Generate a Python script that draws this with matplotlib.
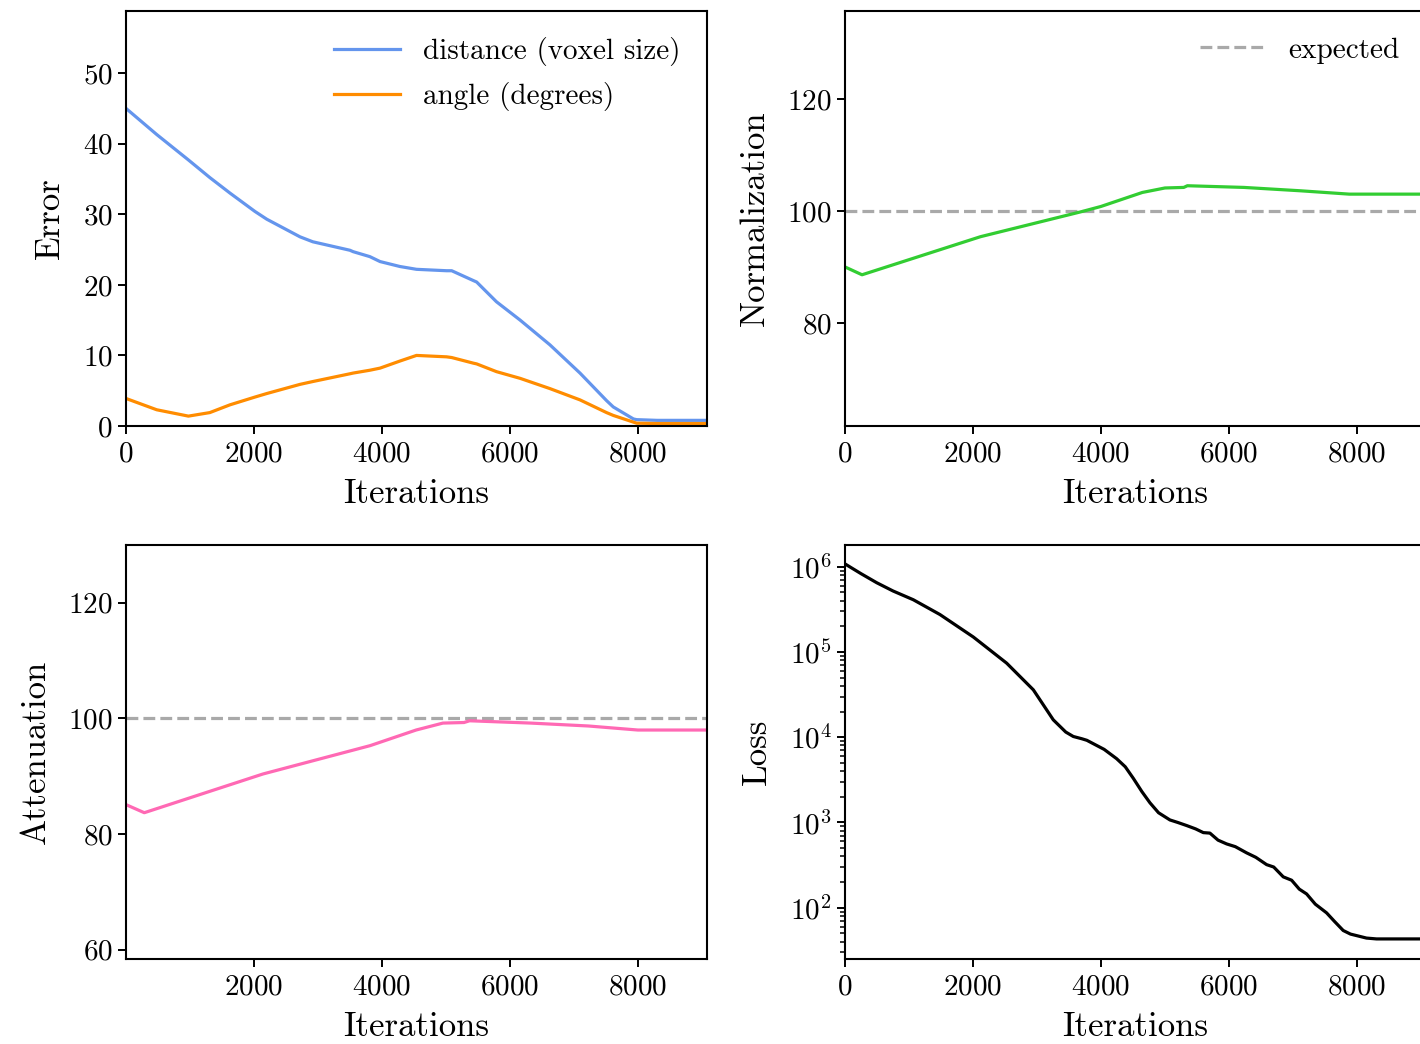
import matplotlib
matplotlib.use("Agg")
import matplotlib.pyplot as plt

plt.rcParams['font.family'] = ['cmr10', 'DejaVu Serif']
plt.rcParams['mathtext.fontset'] = 'cm'
plt.rcParams['axes.formatter.use_mathtext'] = True
plt.rcParams['axes.unicode_minus'] = False

# ---- data ----
err_iters = [0, 480, 975, 1310, 1625, 2015, 2200, 2720, 2920, 3500, 3550, 3810,
             3970, 4280, 4540, 5010, 5090, 5430, 5480, 5790, 6160, 6625, 7095,
             7510, 7615, 7930, 7980, 8300, 9080]
dist_err = [45.0, 41.3, 37.7, 35.2, 33.0, 30.4, 29.3, 26.8, 26.1, 24.9, 24.7, 24.0,
            23.3, 22.6, 22.2, 22.0, 22.0, 20.6, 20.4, 17.6, 15.0, 11.5, 7.5,
            3.6, 2.7, 1.0, 0.9, 0.8, 0.8]
angle_err = [3.9, 2.3, 1.4, 1.9, 3.0, 4.1, 4.6, 5.9, 6.3, 7.4, 7.5, 7.9,
             8.2, 9.2, 10.0, 9.8, 9.7, 8.9, 8.8, 7.7, 6.75, 5.3, 3.7,
             1.9, 1.5, 0.55, 0.4, 0.35, 0.35]

norm_iters = [0, 266, 2117, 3706, 4000, 4647, 5000, 5294, 5351, 6234, 7116, 7881, 9080]
norm_vals = [90.0, 88.6, 95.4, 99.9, 100.8, 103.3, 104.1, 104.2, 104.5, 104.2, 103.6, 103.0, 103.0]

att_iters = [0, 287, 2142, 3816, 4534, 4953, 5283, 5370, 6328, 7225, 8000, 9080]
att_vals = [85.1, 83.7, 90.4, 95.3, 98.0, 99.2, 99.3, 99.6, 99.2, 98.7, 98.0, 98.0]

expected = 100

loss_iters = [0, 250, 495, 750, 1068, 1484, 2005, 2526, 2943, 3255, 3450, 3568,
              3700, 3780, 3880, 4050, 4245, 4380, 4505, 4640, 4766, 4900, 5078,
              5200, 5339, 5480, 5600, 5703, 5830, 5964, 6100, 6276, 6420, 6589,
              6700, 6849, 6980, 7100, 7214, 7350, 7526, 7650, 7786, 7900, 8047,
              8150, 8307, 9080]
loss_vals = [1.08e6, 8.3e5, 6.5e5, 5.2e5, 4.1e5, 2.75e5, 1.5e5, 7.4e4, 3.6e4, 1.6e4, 1.15e4, 1.02e4,
             9.6e3, 9.2e3, 8.4e3, 7.2e3, 5.6e3, 4.5e3, 3.3e3, 2.3e3, 1.7e3, 1.3e3, 1.07e3,
             1.0e3, 9.2e2, 8.4e2, 7.6e2, 7.5e2, 6.2e2, 5.6e2, 5.2e2, 4.4e2, 3.9e2, 3.2e2,
             3.0e2, 2.3e2, 2.1e2, 1.65e2, 1.45e2, 1.1e2, 8.7e1, 6.9e1, 5.4e1, 4.9e1, 4.6e1,
             4.4e1, 4.3e1, 4.3e1]

XMAX = 9080
LW = 2.3
TICK_FS = 21
LABEL_FS = 25

fig = plt.figure(figsize=(14.2, 10.44), dpi=100)
W = 581 / 1420
ax_err = fig.add_axes([126 / 1420, 1 - 426 / 1044, W, 415 / 1044])
ax_norm = fig.add_axes([845 / 1420, 1 - 426 / 1044, W, 415 / 1044])
ax_att = fig.add_axes([126 / 1420, 1 - 959 / 1044, W, 414 / 1044])
ax_loss = fig.add_axes([845 / 1420, 1 - 959 / 1044, W, 414 / 1044])

for ax in (ax_err, ax_norm, ax_att, ax_loss):
    ax.tick_params(labelsize=TICK_FS, length=6, width=1.4)
    ax.tick_params(axis='x', pad=5)
    ax.tick_params(which='minor', length=3.5, width=1.1)
    for sp in ax.spines.values():
        sp.set_linewidth(1.5)
    ax.set_xlabel('Iterations', fontsize=LABEL_FS, labelpad=8)
    ax.set_xticks([0, 2000, 4000, 6000, 8000])

leg_kw = dict(loc='upper right', frameon=False, fontsize=TICK_FS, handlelength=2.25,
              handletextpad=0.8, labelspacing=0.55)

# Error
ax_err.plot(err_iters, dist_err, color='cornflowerblue', lw=LW, label='distance (voxel size)')
ax_err.plot(err_iters, angle_err, color='darkorange', lw=LW, label='angle (degrees)')
ax_err.set_xlim(0, XMAX)
ax_err.set_ylim(0, 58.8)
ax_err.set_yticks([0, 10, 20, 30, 40, 50])
ax_err.set_ylabel('Error', fontsize=LABEL_FS, labelpad=12)
ax_err.legend(**leg_kw)

# Normalization
ax_norm.axhline(expected, color='darkgray', ls='--', lw=LW, label='expected')
ax_norm.plot(norm_iters, norm_vals, color='limegreen', lw=LW)
ax_norm.set_xlim(0, XMAX)
ax_norm.set_ylim(61.6, 135.7)
ax_norm.set_yticks([80, 100, 120])
ax_norm.set_ylabel('Normalization', fontsize=LABEL_FS, labelpad=12)
ax_norm.legend(**leg_kw)

# Attenuation
ax_att.axhline(expected, color='darkgray', ls='--', lw=LW)
ax_att.plot(att_iters, att_vals, color='hotpink', lw=LW)
ax_att.set_xlim(1, XMAX)
ax_att.set_ylim(58.4, 130)
ax_att.set_yticks([60, 80, 100, 120])
ax_att.set_xticks([2000, 4000, 6000, 8000])
ax_att.set_ylabel('Attenuation', fontsize=LABEL_FS, labelpad=12)

# Loss
ax_loss.plot(loss_iters, loss_vals, color='black', lw=LW)
ax_loss.set_yscale('log')
ax_loss.set_xlim(0, XMAX)
ax_loss.set_ylim(25, 1.8e6)
ax_loss.set_ylabel('Loss', fontsize=LABEL_FS, labelpad=12)

fig.savefig('out.png', dpi=100)
